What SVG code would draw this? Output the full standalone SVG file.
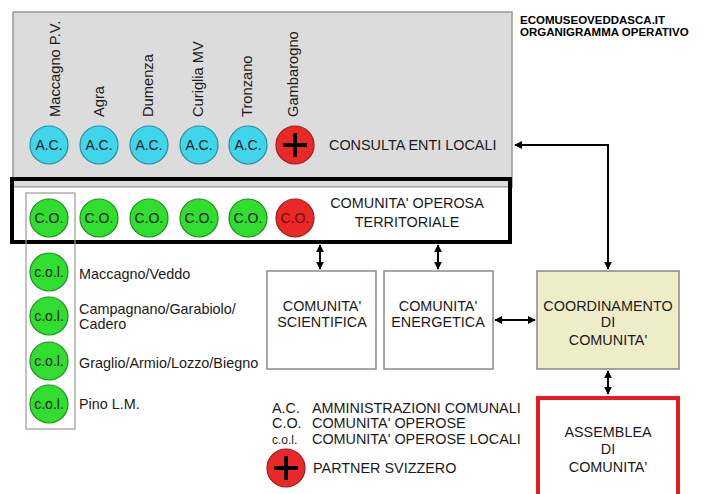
<svg xmlns="http://www.w3.org/2000/svg" width="706" height="494" viewBox="0 0 706 494">
<style>
text{font-family:"Liberation Sans",Arial,sans-serif;fill:#1a1a1a}
.lbl{font-size:14.4px}
.mid{text-anchor:middle}
.cin{font-size:14px;text-anchor:middle;dominant-baseline:central}
.ac{fill:#3fd6ec;stroke:#2a8c9c;stroke-width:1.2}
.co{fill:#2fde2f;stroke:#1f8c1f;stroke-width:1.2}
.red{fill:#ec2727;stroke:#9a1e1e;stroke-width:1.2}
.box{fill:#fff;stroke:#8a8a8a;stroke-width:1.5}
.conn{stroke:#000;stroke-width:2;fill:none}
.plus{stroke:#000;stroke-width:4}
.rot{font-size:14.7px}
.hdr{font-size:11.5px;font-weight:bold;fill:#000}
</style>
<defs>
<marker id="ah" viewBox="0 0 10 10" refX="9" refY="5" markerWidth="4" markerHeight="4" orient="auto-start-reverse" markerUnits="strokeWidth">
<path d="M0,0 L10,5 L0,10 z" fill="#000"/>
</marker>
</defs>
<rect width="706" height="494" fill="#fff"/>

<g id="header">
<text class="hdr" x="520" y="24">ECOMUSEOVEDDASCA.IT</text>
<text class="hdr" x="520" y="36">ORGANIGRAMMA OPERATIVO</text>
</g>

<g id="consulta">
<rect x="13" y="12" width="499" height="175" fill="#dcdcdc" stroke="#9a9a9a" stroke-width="1.5"/>
<text class="rot" transform="translate(60,117) rotate(-90)">Maccagno P.V.</text>
<text class="rot" transform="translate(104,117) rotate(-90)">Agra</text>
<text class="rot" transform="translate(153,117) rotate(-90)">Dumenza</text>
<text class="rot" transform="translate(203,117) rotate(-90)">Curiglia MV</text>
<text class="rot" transform="translate(252,117) rotate(-90)">Tronzano</text>
<text class="rot" transform="translate(298,117) rotate(-90)">Gambarogno</text>
<circle class="ac" cx="49" cy="145" r="19"/><text class="cin" x="49" y="145">A.C.</text>
<circle class="ac" cx="99" cy="145" r="19"/><text class="cin" x="99" y="145">A.C.</text>
<circle class="ac" cx="149" cy="145" r="19"/><text class="cin" x="149" y="145">A.C.</text>
<circle class="ac" cx="199" cy="145" r="19"/><text class="cin" x="199" y="145">A.C.</text>
<circle class="ac" cx="248" cy="145" r="19"/><text class="cin" x="248" y="145">A.C.</text>
<circle class="red" cx="295" cy="145" r="19"/>
<path class="plus" d="M283,145 H307 M295,133 V157"/>
<text class="lbl" x="329" y="150">CONSULTA ENTI LOCALI</text>
</g>

<g id="comunita-operosa">
<rect x="12" y="179" width="498" height="63" fill="none" stroke="#000" stroke-width="4"/>
<rect x="14" y="187" width="494" height="53" fill="#fff"/>
<line x1="14" y1="187" x2="508" y2="187" stroke="#9a9a9a" stroke-width="1"/>
<circle class="co" cx="49" cy="218" r="19"/><text class="cin" x="49" y="218">C.O.</text>
<circle class="co" cx="99" cy="218" r="19"/><text class="cin" x="99" y="218">C.O.</text>
<circle class="co" cx="149" cy="218" r="19"/><text class="cin" x="149" y="218">C.O.</text>
<circle class="co" cx="199" cy="218" r="19"/><text class="cin" x="199" y="218">C.O.</text>
<circle class="co" cx="248" cy="218" r="19"/><text class="cin" x="248" y="218">C.O.</text>
<circle class="red" cx="295" cy="218" r="19"/><text class="cin" x="295" y="218" style="fill:#6a1010">C.O.</text>
<text class="lbl mid" x="407" y="208">COMUNITA' OPEROSA</text>
<text class="lbl mid" x="407" y="227">TERRITORIALE</text>
</g>

<g id="col-list">
<rect x="26" y="193" width="49" height="236" fill="none" stroke="#9a9a9a" stroke-width="1.2"/>
<circle class="co" cx="49" cy="272" r="19"/><text class="cin" x="49" y="272">c.o.l.</text>
<circle class="co" cx="49" cy="316" r="19"/><text class="cin" x="49" y="316">c.o.l.</text>
<circle class="co" cx="49" cy="361" r="19"/><text class="cin" x="49" y="361">c.o.l.</text>
<circle class="co" cx="49" cy="404" r="19"/><text class="cin" x="49" y="404">c.o.l.</text>
<text class="lbl" x="79" y="279">Maccagno/Veddo</text>
<text class="lbl" x="79" y="314">Campagnano/Garabiolo/</text>
<text class="lbl" x="79" y="329">Cadero</text>
<text class="lbl" x="79" y="368">Graglio/Armio/Lozzo/Biegno</text>
<text class="lbl" x="79" y="409">Pino L.M.</text>
</g>

<g id="scientifica">
<rect class="box" x="267" y="271" width="109" height="98"/>
<text class="lbl mid" x="322" y="311">COMUNITA'</text>
<text class="lbl mid" x="322" y="327">SCIENTIFICA</text>
</g>

<g id="energetica">
<rect class="box" x="384" y="271" width="109" height="98"/>
<text class="lbl mid" x="438" y="311">COMUNITA'</text>
<text class="lbl mid" x="438" y="327">ENERGETICA</text>
</g>

<g id="coordinamento">
<rect x="537" y="271" width="142" height="98" fill="#efedc8" stroke="#8a8a8a" stroke-width="1.5"/>
<text class="lbl mid" x="608" y="311">COORDINAMENTO</text>
<text class="lbl mid" x="608" y="327">DI</text>
<text class="lbl mid" x="608" y="345">COMUNITA'</text>
</g>

<g id="assemblea">
<rect x="538" y="398" width="140" height="100" fill="#fff" stroke="#e81c1c" stroke-width="4"/>
<text class="lbl mid" x="608" y="437">ASSEMBLEA</text>
<text class="lbl mid" x="608" y="454">DI</text>
<text class="lbl mid" x="608" y="472">COMUNITA'</text>
</g>

<g id="legend">
<text class="lbl" x="272" y="413">A.C.</text>
<text class="lbl" x="312" y="413">AMMINISTRAZIONI COMUNALI</text>
<text class="lbl" x="272" y="428">C.O.</text>
<text class="lbl" x="312" y="428">COMUNITA' OPEROSE</text>
<text class="lbl" x="272" y="444" style="font-size:12px">c.o.l.</text>
<text class="lbl" x="312" y="444">COMUNITA' OPEROSE LOCALI</text>
<circle class="red" cx="286" cy="468" r="19"/>
<path class="plus" d="M274,468 H298 M286,456 V480"/>
<text class="lbl" x="313" y="473">PARTNER SVIZZERO</text>
</g>

<g id="connectors">
<path class="conn" d="M608,269 V145 H515" marker-start="url(#ah)" marker-end="url(#ah)"/>
<path class="conn" d="M320,245 V269" marker-start="url(#ah)" marker-end="url(#ah)"/>
<path class="conn" d="M438,245 V269" marker-start="url(#ah)" marker-end="url(#ah)"/>
<path class="conn" d="M495,320 H535" marker-start="url(#ah)" marker-end="url(#ah)"/>
<path class="conn" d="M608,371 V394" marker-start="url(#ah)" marker-end="url(#ah)"/>
</g>
</svg>
